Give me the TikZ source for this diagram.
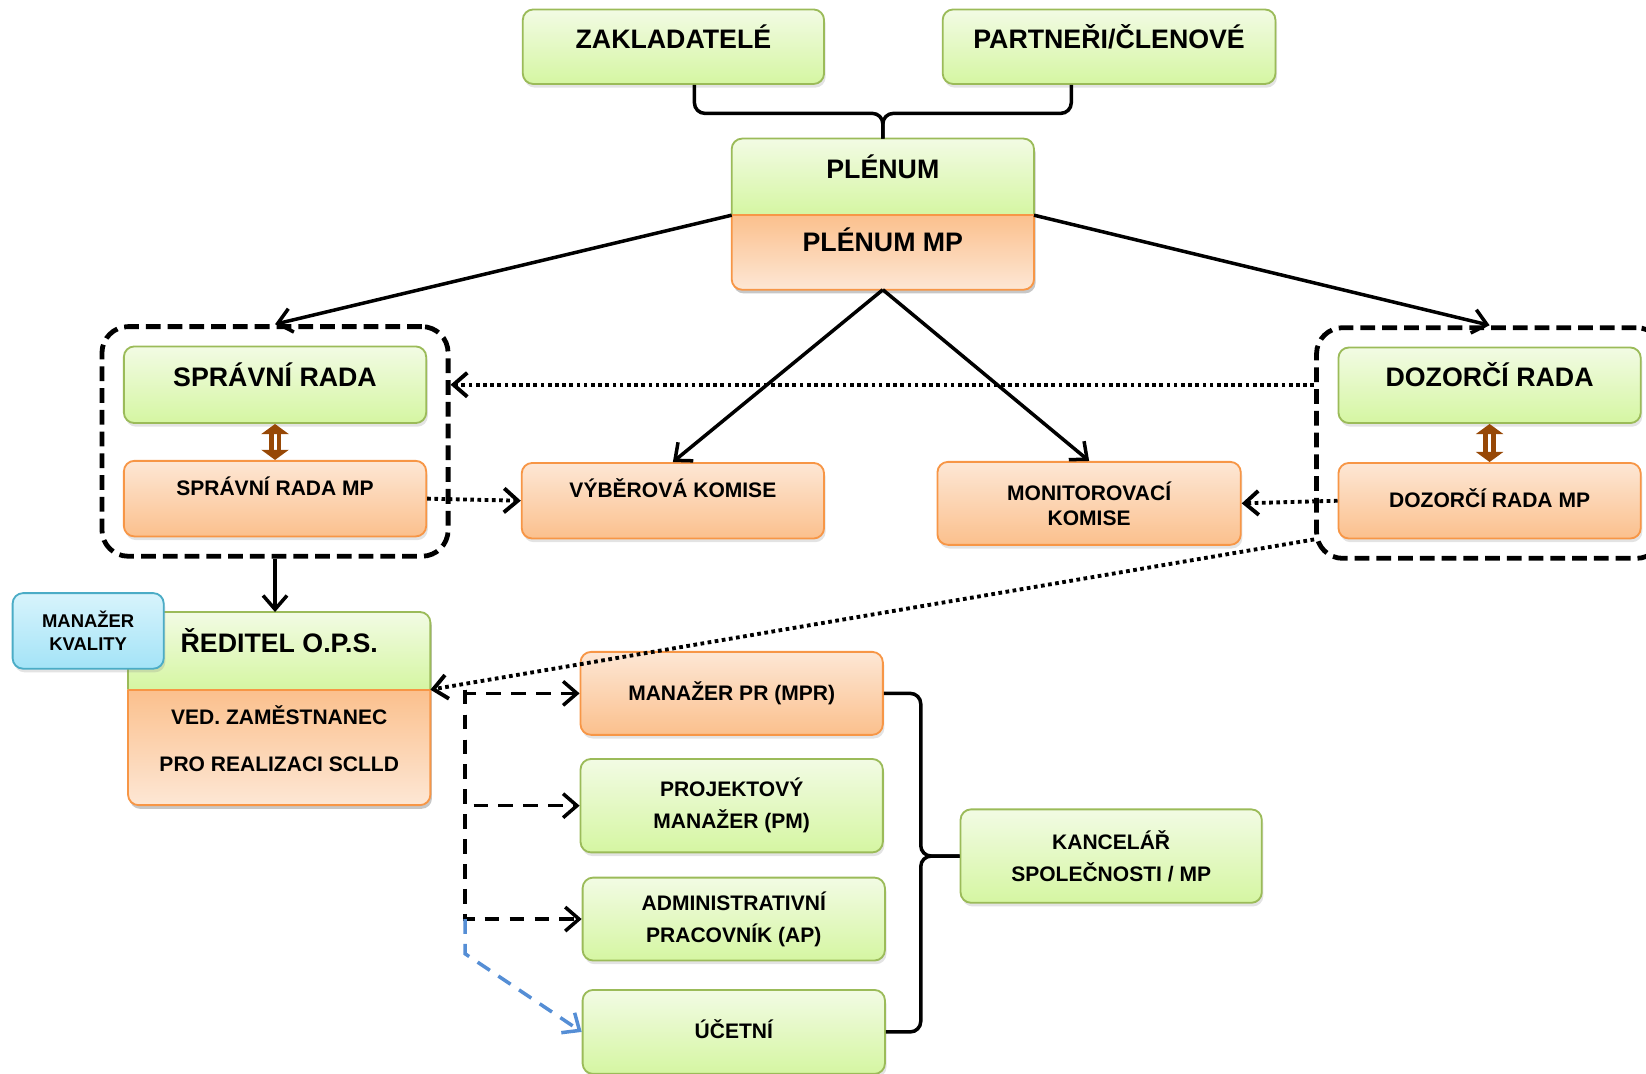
\documentclass[tikz,border=0pt]{standalone}
\usepackage{fontspec}
\setmainfont{Liberation Sans}
\usetikzlibrary{arrows.meta,positioning,fit,backgrounds,shadows}
\definecolor{grnb}{HTML}{9BBB59}
\definecolor{grnl}{HTML}{F2FBE4}
\definecolor{grnd}{HTML}{D5F6A2}
\definecolor{orgb}{HTML}{F79646}
\definecolor{orgl}{HTML}{FDE7D5}
\definecolor{orgd}{HTML}{FBC08D}
\definecolor{blub}{HTML}{4BACC6}
\definecolor{blul}{HTML}{D8F4FC}
\definecolor{blud}{HTML}{A3E3F7}
\definecolor{brownc}{HTML}{974806}
\definecolor{bluea}{HTML}{558ED5}
\begin{document}
\begin{tikzpicture}[
  >={Straight Barb[length=7.5pt,width=13pt]},
  fbig/.style={font=\fontsize{14.5}{17}\selectfont\bfseries},
  fmid/.style={font=\fontsize{11.4}{17.5}\selectfont\bfseries},
  fsml/.style={font=\fontsize{10}{12.5}\selectfont\bfseries},
  txtup/.style={text height=.72em,text depth=#1},
  txtup/.default=.36cm,
  txtmid/.style={text height=.72em,text depth=0pt},
  basebox/.style={rounded corners=.2cm,line width=1pt,align=center,
    minimum width=5.76cm,minimum height=1.44cm,inner sep=2pt,
    drop shadow={opacity=.22,shadow xshift=.03cm,shadow yshift=-.07cm}},
  gbox/.style={basebox,draw=grnb,top color=grnl,bottom color=grnd},
  obox/.style={basebox,draw=orgb,top color=orgl,bottom color=orgd},
  bbox/.style={basebox,draw=blub,top color=blul,bottom color=blud},
  part/.style={align=center,minimum width=5.76cm,inner sep=2pt,outer sep=0pt},
  grpbox/.style={draw,line width=2.6pt,dash pattern=on 8pt off 3.8pt,
    rounded corners=.5cm,inner xsep=.4cm,inner ysep=.36cm},
  solidl/.style={line width=1.9pt},
  dotl/.style={line width=2.1pt,dash pattern=on 2pt off 1.9pt},
  dashl/.style={line width=1.9pt,dash pattern=on 8pt off 5.5pt},
  bracel/.style={line width=1.9pt,rounded corners=.2cm},
  dblar/.style={draw=brownc,line width=2.6pt,double=white,double distance=1.6pt,
    {Triangle[length=5.5pt,width=15pt,line width=0pt]}-{Triangle[length=5.5pt,width=15pt,line width=0pt]}}]
  \useasboundingbox (0,0) rectangle (31.36,-20.46);

  % top
  \node[gbox,fbig,txtup=.2cm,minimum width=5.74cm,minimum height=1.42cm] (zak) at (12.83,-.89) {ZAKLADATELÉ};
  \node[gbox,fbig,txtup=.2cm,minimum width=6.34cm,minimum height=1.42cm] (part) at (21.13,-.89) {PARTNEŘI/ČLENOVÉ};
  \node[part,fbig,txtup=.2cm,minimum height=1.46cm] (plen) at (16.82,-3.37) {PLÉNUM};
  \node[part,fbig,txtup=.28cm,minimum height=1.42cm,below=0pt of plen] (plenmp) {PLÉNUM MP};

  % boards
  \node[gbox,fbig,txtup=.2cm,minimum height=1.46cm] (sr) at (5.24,-7.33) {SPRÁVNÍ RADA};
  \node[obox,fmid,txtup] (srmp) at (5.24,-9.5) {SPRÁVNÍ RADA MP};
  \node[grpbox,fit=(sr)(srmp)] (lgrp) {};
  \node[obox,fmid,txtup] (vyb) at (12.82,-9.54) {VÝBĚROVÁ KOMISE};
  \node[obox,fmid,minimum width=5.78cm,minimum height=1.58cm] (mon) at (20.75,-9.59) {MONITOROVACÍ\\[-3.9pt]KOMISE};
  \node[gbox,fbig,txtup=.2cm] (dr) at (28.38,-7.34) {DOZORČÍ RADA};
  \node[obox,fmid,txtmid] (drmp) at (28.38,-9.54) {DOZORČÍ RADA MP};
  \node[grpbox,fit=(dr)(drmp)] (rgrp) {};

  % office
  \node[part,fbig,txtup=.2cm,minimum height=1.48cm] (red) at (5.32,-12.4) {ŘEDITEL O.P.S.};
  \node[part,fmid,minimum height=2.2cm,below=0pt of red] (ved) {VED. ZAMĚSTNANEC\\[8pt]PRO REALIZACI SCLLD\\[-8pt]\mbox{}};
  \node[bbox,fsml,minimum width=2.88cm] (mkv) at (1.68,-12.02) {MANAŽER\\KVALITY};
  \node[obox,fmid,txtmid,minimum height=1.58cm] (mpr) at (13.94,-13.21) {MANAŽER PR (MPR)};
  \node[gbox,fmid,minimum height=1.78cm] (pm) at (13.94,-15.35) {PROJEKTOVÝ\\MANAŽER (PM)};
  \node[gbox,fmid,minimum height=1.58cm] (ap) at (13.98,-17.51) {ADMINISTRATIVNÍ\\PRACOVNÍK (AP)};
  \node[gbox,fmid,txtmid,minimum height=1.6cm] (uce) at (13.98,-19.66) {ÚČETNÍ};
  \node[gbox,fmid,minimum width=5.74cm,minimum height=1.78cm] (kanc) at (21.17,-16.31) {KANCELÁŘ\\SPOLEČNOSTI / MP};

  % two-part boxes
  \begin{scope}[on background layer]
    \foreach \t/\b in {plen/plenmp,red/ved}{
      \fill[black,opacity=.22,rounded corners=.2cm] ([shift={(.03,-.07)}]\t.north west) rectangle ([shift={(.03,-.07)}]\b.south east);
      \begin{scope}
        \clip[rounded corners=.2cm] (\t.north west) rectangle (\b.south east);
        \shade[top color=grnl,bottom color=grnd] (\t.north west) rectangle (\t.south east);
        \shade[top color=orgd,bottom color=orgl] (\b.north west) rectangle (\b.south east);
      \end{scope}
      \draw[grnb,line width=1pt,rounded corners=.2cm] (\t.south west) |- (\t.north) -| (\t.south east);
      \draw[orgb,line width=1pt,rounded corners=.2cm] (\b.north west) |- (\b.south) -| (\b.north east);
      \draw[orgb,line width=1pt] (\b.north west) -- (\b.north east);
    }
  \end{scope}

  % connectors
  \draw[bracel] ([xshift=.4cm]zak.south) |- ([yshift=.48cm]plen.north) -- (plen.north);
  \draw[bracel] ([xshift=-.72cm]part.south) |- ([yshift=.48cm]plen.north) -- (plen.north);
  \draw[solidl,->] (plen.south west) -- (lgrp.north);
  \draw[solidl,->] (plen.south east) -- (rgrp.north);
  \draw[solidl,->] (plenmp.south) -- (vyb.north);
  \draw[solidl,->] (plenmp.south) -- (mon.north);
  \draw[dblar] (sr.south) -- (srmp.north);
  \draw[dblar] (dr.south) -- (drmp.north);
  \draw[dotl,->] (srmp.east) -- (vyb.west);
  \draw[dotl,->] (drmp.west) -- (mon.east);
  \draw[dotl,->] (rgrp.west |- sr.east) -- (lgrp.east |- sr.east);
  \draw[dotl,->] (rgrp.west |- drmp.south) -- (red.south east);
  \draw[solidl,->] (lgrp.south) -- (lgrp.south |- red.north);

  \coordinate (trunk) at ([xshift=.66cm]red.south east);
  \draw[dashl,->] (trunk) |- (mpr.west);
  \draw[dashl,->] (trunk) |- (pm.west);
  \draw[dashl,->] (trunk) |- (ap.west);
  \draw[dashl,bluea,->] (trunk |- ap.west) -- ++(0,-.66) -- (uce.west);

  \draw[bracel] (mpr.east) -| ([xshift=-.74cm]kanc.west) -- (kanc.west);
  \draw[bracel] (uce.east) -| ([xshift=-.74cm]kanc.west) -- (kanc.west);
\end{tikzpicture}
\end{document}
